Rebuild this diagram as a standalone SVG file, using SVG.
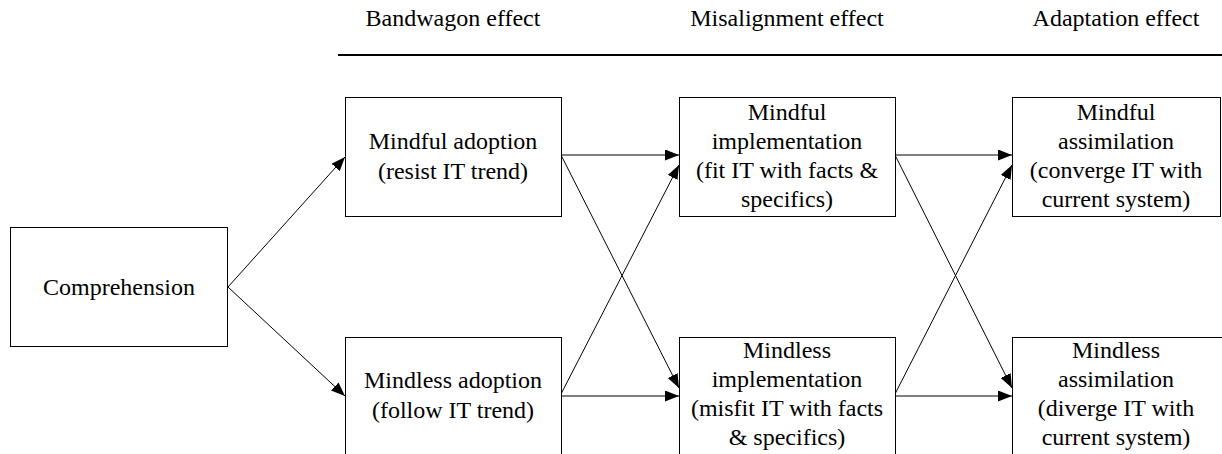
<svg xmlns="http://www.w3.org/2000/svg" width="1222" height="454" viewBox="0 0 1222 454">
<style>
.t{font-family:"Liberation Serif","Times New Roman",serif;font-size:24px;fill:#000;text-anchor:middle}
.box{fill:#fff;stroke:#000;stroke-width:1}
.conn line{stroke:#000;stroke-width:1;marker-end:url(#ah)}
</style>
<defs>
<marker id="ah" viewBox="0 0 14 11" refX="14" refY="5.5" markerWidth="14" markerHeight="11" markerUnits="userSpaceOnUse" orient="auto">
<path d="M0,0 L14,5.5 L0,11 Z" fill="#000"/>
</marker>
</defs>
<rect width="1222" height="454" fill="#fff"/>
<g id="headers" class="t">
<text x="453" y="26">Bandwagon effect</text>
<text x="787" y="26">Misalignment effect</text>
<text x="1116" y="26">Adaptation effect</text>
<line x1="338" y1="55" x2="1222" y2="55" stroke="#000" stroke-width="2"/>
</g>
<g class="conn" id="connectors">
<line x1="228" y1="287" x2="345" y2="157"/>
<line x1="228" y1="287" x2="345" y2="396"/>
<line x1="561" y1="155" x2="679" y2="155"/>
<line x1="561" y1="155" x2="679" y2="388"/>
<line x1="561" y1="394" x2="679" y2="165"/>
<line x1="561" y1="396" x2="679" y2="396"/>
<line x1="895" y1="155" x2="1012" y2="155"/>
<line x1="895" y1="155" x2="1012" y2="388"/>
<line x1="895" y1="394" x2="1012" y2="165"/>
<line x1="895" y1="396" x2="1012" y2="396"/>
</g>
<g id="comprehension" class="t">
<rect class="box" x="10.5" y="227.5" width="217" height="119"/>
<text x="119" y="295">Comprehension</text>
</g>
<g id="mindful-adoption" class="t">
<rect class="box" x="345.5" y="97.5" width="216" height="119"/>
<text x="453" y="149">Mindful adoption</text>
<text x="453" y="179">(resist IT trend)</text>
</g>
<g id="mindless-adoption" class="t">
<rect class="box" x="345.5" y="337.5" width="216" height="125"/>
<text x="453" y="388">Mindless adoption</text>
<text x="453" y="418">(follow IT trend)</text>
</g>
<g id="mindful-implementation" class="t">
<rect class="box" x="679.5" y="97.5" width="216" height="119"/>
<text x="787" y="120">Mindful</text>
<text x="787" y="149">implementation</text>
<text x="787" y="178">(fit IT with facts &amp;</text>
<text x="787" y="207">specifics)</text>
</g>
<g id="mindless-implementation" class="t">
<rect class="box" x="679.5" y="337.5" width="216" height="125"/>
<text x="787" y="358">Mindless</text>
<text x="787" y="387">implementation</text>
<text x="787" y="416">(misfit IT with facts</text>
<text x="787" y="445">&amp; specifics)</text>
</g>
<g id="mindful-assimilation" class="t">
<rect class="box" x="1012.5" y="97.5" width="208" height="119"/>
<text x="1116" y="120">Mindful</text>
<text x="1116" y="149">assimilation</text>
<text x="1116" y="178">(converge IT with</text>
<text x="1116" y="207">current system)</text>
</g>
<g id="mindless-assimilation" class="t">
<rect class="box" x="1012.5" y="337.5" width="216" height="125"/>
<text x="1116" y="358">Mindless</text>
<text x="1116" y="387">assimilation</text>
<text x="1116" y="416">(diverge IT with</text>
<text x="1116" y="445">current system)</text>
</g>
</svg>
